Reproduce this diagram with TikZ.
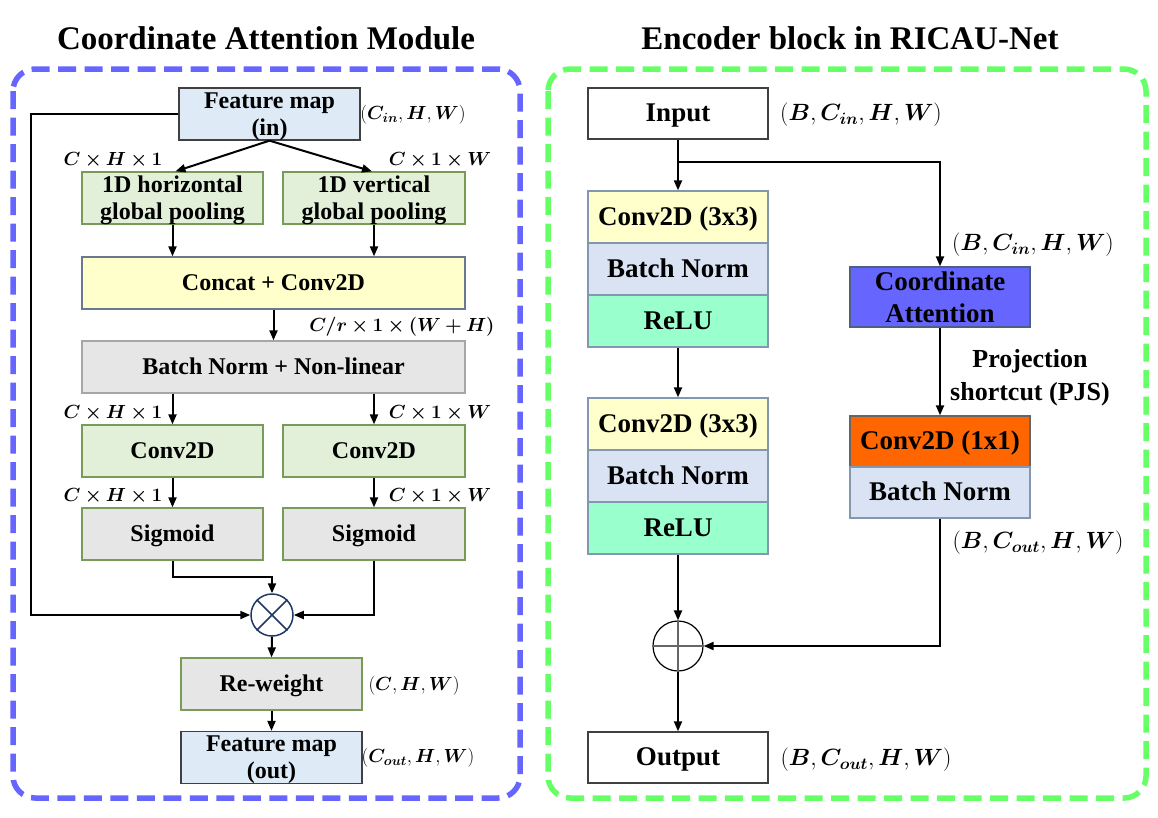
\RequirePackage{fix-cm}
\documentclass[tikz,border=0pt]{standalone}
\usepackage{amsmath}
\usepackage{bm}
\usepackage[no-math]{fontspec}
\setmainfont{Liberation Serif}
\usetikzlibrary{arrows.meta,calc}
\definecolor{cablue}{HTML}{6666FF}
\definecolor{encgreen}{HTML}{66FF66}
\definecolor{fmblue}{HTML}{DEEBF7}
\definecolor{lgreen}{HTML}{E2F0D9}
\definecolor{lgreenb}{HTML}{7A9A5A}
\definecolor{lyellow}{HTML}{FFFFCC}
\definecolor{lgray}{HTML}{E7E6E6}
\definecolor{lgrayb}{HTML}{A6A6A6}
\definecolor{bnblue}{HTML}{DAE3F3}
\definecolor{relugreen}{HTML}{99FFCC}
\definecolor{orng}{HTML}{FF6600}
\definecolor{navy}{HTML}{1F3864}
\definecolor{stackb}{HTML}{8497B0}
\begin{document}
\begin{tikzpicture}[x=1pt,y=-1pt,
  every node/.style={font=\bfseries},
  lbox/.style={draw, line width=1.3pt, minimum width=181pt, minimum height=52pt, inner sep=0pt, font=\fontsize{24}{27}\selectfont\bfseries},
  wide/.style={lbox, minimum width=383pt},
  rbox/.style={draw=stackb, line width=1.3pt, minimum width=180pt, minimum height=52pt, inner sep=0pt, font=\fontsize{27}{32}\selectfont\bfseries},
  onel/.style={text height=14.5pt, text depth=0pt},
  oner/.style={text height=16.5pt, text depth=0pt},
  twoline/.style={align=center, text depth=0pt},
  arr/.style={line width=2pt, -{Triangle[length=10pt,width=8pt]}},
  lab/.style={font=\fontsize{19}{23}\selectfont},
  rlab/.style={font=\fontsize{23.5}{28}\selectfont},
  frame/.style={line width=5.5pt, dash pattern=on 18pt off 8.5pt, rounded corners=22pt}
]
\useasboundingbox (0,0) rectangle (1158,817);
% titles
\node[font=\fontsize{33}{38}\selectfont\bfseries] (t1) at (266,38) {Coordinate Attention Module};
\node[font=\fontsize{33}{38}\selectfont\bfseries] (t2) at (850,38) {Encoder block in RICAU-Net};
% frames
\draw[frame, cablue] (13,69) rectangle (520,798);
\draw[frame, encgreen] (548,69) rectangle (1146,798);

% ---------- left panel ----------
\node[lbox, twoline, fill=fmblue, draw=black!75] (fmin) at (269.5,114) {Feature map\\(in)};
\node[lbox, twoline, fill=lgreen, draw=lgreenb] (h1) at (172.5,198) {1D horizontal\\global pooling};
\node[lbox, twoline, fill=lgreen, draw=lgreenb, minimum width=182pt] (v1) at (374,198) {1D vertical\\global pooling};
\node[wide, onel, fill=lyellow, draw=stackb!80!black] (cat) at (273.5,283) {Concat + Conv2D};
\node[wide, onel, fill=lgray, draw=lgrayb] (bnl) at (273.5,367) {Batch Norm + Non-linear};
\node[lbox, onel, fill=lgreen, draw=lgreenb] (cv1) at (172.5,451) {Conv2D};
\node[lbox, onel, fill=lgreen, draw=lgreenb, minimum width=182pt] (cv2) at (374,451) {Conv2D};
\node[lbox, onel, fill=lgray, draw=lgreenb] (sg1) at (172.5,534) {Sigmoid};
\node[lbox, onel, fill=lgray, draw=lgreenb, minimum width=182pt] (sg2) at (374,534) {Sigmoid};
\node[circle, draw=navy, line width=1.5pt, minimum size=42pt, inner sep=0pt] (mul) at (272,615) {};
\draw[navy, line width=1.5pt] (mul.north west) -- (mul.south east) (mul.north east) -- (mul.south west);
\node[lbox, onel, fill=lgray, draw=lgreenb] (rw) at (271.5,684) {Re-weight};
\node[lbox, twoline, fill=fmblue, draw=black!75] (fmout) at (271.5,757.5) {Feature map\\(out)};

\node[lab] (l1) at (413,115) {$(\bm{C_{in}},\bm{H},\bm{W})$};
\node[lab] (l2) at (113,160) {$\bm{C\times H\times 1}$};
\node[lab] (l3) at (440,160) {$\bm{C\times 1\times W}$};
\node[lab] (l4) at (402,327) {$\bm{C/r\times 1\times (W+H)}$};
\node[lab] (l5) at (113,413) {$\bm{C\times H\times 1}$};
\node[lab] (l6) at (440,413) {$\bm{C\times 1\times W}$};
\node[lab] (l7) at (113,496) {$\bm{C\times H\times 1}$};
\node[lab] (l8) at (440,496) {$\bm{C\times 1\times W}$};
\node[lab] (l9) at (414,686) {$(\bm{C},\bm{H},\bm{W})$};
\node[lab] (l10) at (418,758) {$(\bm{C_{out}},\bm{H},\bm{W})$};

\draw[arr] (fmin.south) -- ($(h1.north)+(3,0)$);
\draw[arr] (fmin.south) -- ($(v1.north)+(-2,0)$);
\draw[arr] (h1.south) -- (h1.south |- cat.north);
\draw[arr] (v1.south) -- (v1.south |- cat.north);
\draw[arr] (cat.south) -- (bnl.north);
\draw[arr] (cv1.north |- bnl.south) -- (cv1.north);
\draw[arr] (cv2.north |- bnl.south) -- (cv2.north);
\draw[arr] (cv1.south) -- (sg1.north);
\draw[arr] (cv2.south) -- (sg2.north);
\coordinate (j1) at (172.5,577);
\draw[arr] (sg1.south) -- (j1) -| (mul.north);
\draw[arr] (sg2.south) |- (mul.east);
\coordinate (j2) at (31,114);
\draw[arr] (fmin.west) -- (j2) |- (mul.west);
\draw[arr] (mul.south) -- (rw.north);
\draw[arr] (rw.south) -- (fmout.north);

% ---------- right panel ----------
\node[rbox, oner, fill=white, draw=black!75, minimum height=51pt] (inp) at (678,113.5) {Input};
\node[rbox, oner, fill=lyellow] (a1) at (678,217) {Conv2D (3x3)};
\node[rbox, oner, fill=bnblue] (a2) at (678,269) {Batch Norm};
\node[rbox, oner, fill=relugreen] (a3) at (678,321) {ReLU};
\node[rbox, oner, fill=lyellow] (b1) at (678,424) {Conv2D (3x3)};
\node[rbox, oner, fill=bnblue] (b2) at (678,476) {Batch Norm};
\node[rbox, oner, fill=relugreen] (b3) at (678,528) {ReLU};
\node[rbox, twoline, fill=cablue, draw=navy!80, minimum height=60pt] (cab) at (940,297) {Coordinate\\Attention};
\node[rbox, oner, fill=orng, draw=black!60, minimum height=51pt] (c11) at (940,441.5) {Conv2D (1x1)};
\node[rbox, oner, fill=bnblue, minimum height=51pt] (bn2) at (940,492.5) {Batch Norm};
\node[circle, draw=black, line width=1.2pt, minimum size=50pt, inner sep=0pt] (add) at (678,646) {};
\draw[black!60, line width=1.2pt] (add.north) -- (add.south) (add.west) -- (add.east);
\node[rbox, oner, fill=white, draw=black!75, minimum height=51pt] (outp) at (678,757.5) {Output};

\node[rlab] (r1) at (861,115) {$(\bm{B},\bm{C_{in}},\bm{H},\bm{W})$};
\node[rlab] (r2) at (1033,245) {$(\bm{B},\bm{C_{in}},\bm{H},\bm{W})$};
\node[rlab] (r3) at (1038,543) {$(\bm{B},\bm{C_{out}},\bm{H},\bm{W})$};
\node[rlab] (r4) at (866,760) {$(\bm{B},\bm{C_{out}},\bm{H},\bm{W})$};
\node[align=center, font=\fontsize{26}{33}\selectfont\bfseries] (pjs) at (1030,378) {Projection\\shortcut (PJS)};

\coordinate (br) at (678,162);
\draw[arr] (inp.south) -- (a1.north);
\draw[arr] (br) -| (cab.north);
\draw[arr] (a3.south) -- (b1.north);
\draw[arr] (b3.south) -- (add.north);
\draw[arr] (cab.south) -- (c11.north);
\draw[arr] (bn2.south) |- (add.east);
\draw[arr] (add.south) -- (outp.north);
\end{tikzpicture}
\end{document}
